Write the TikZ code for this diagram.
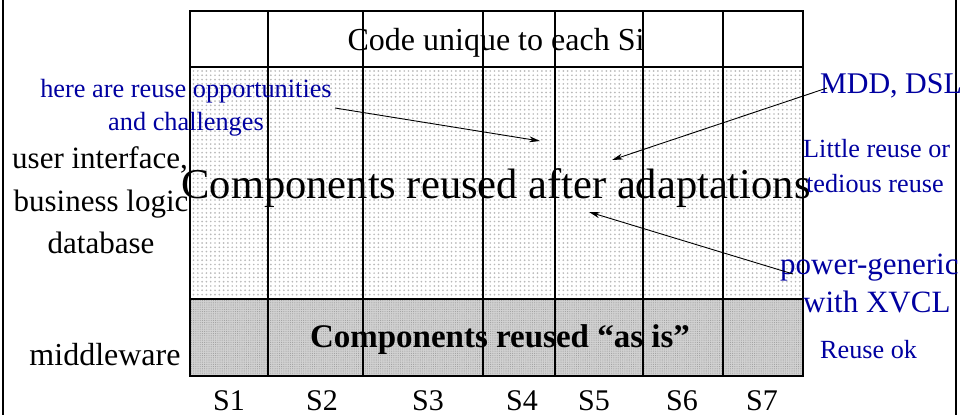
\documentclass[tikz,border=0pt]{standalone}
\usepackage{fontspec}
\setmainfont{Liberation Serif}
\usetikzlibrary{patterns.meta,arrows.meta}
\definecolor{blu}{RGB}{0,0,160}
\tikzset{
  grid/.style={line width=1.5pt, draw=black},
  lbl/.style={inner sep=0pt, anchor=base, font=\fontsize{32}{38}\selectfont},
  blab/.style={inner sep=0pt, anchor=base, text=blu},
  slab/.style={inner sep=0pt, anchor=base, font=\fontsize{30}{36}\selectfont},
  arr/.style={line width=0.9pt, -{Stealth[length=11pt,width=6pt]}},
  frameline/.style={line width=2.5pt}
}
\begin{document}
\begin{tikzpicture}[x=1pt,y=-1pt]
\useasboundingbox (0,0) rectangle (961,415);
\clip (0,0) rectangle (961,415);
% frame sides
\draw[frameline] (3,0) -- (3,415);
\draw[frameline] (956,0) -- (956,415);
% fills
\fill[white] (190,11) rectangle (803,67);
\fill[pattern={Dots[distance=4.3pt,radius=0.95pt]}, pattern color=gray!55] (190,67) rectangle (803,299);
\fill[black!18] (190,299) rectangle (803,376);
\fill[pattern={Dots[distance=2.2pt,radius=0.55pt]}, pattern color=gray!75] (190,299) rectangle (803,376);
% grid
\draw[grid] (190,11) rectangle (803,376);
\draw[grid] (190,67) -- (803,67);
\draw[grid] (190,299) -- (803,299);
\foreach \x in {268,363,483,555,643,723} \draw[grid] (\x,11) -- (\x,376);
% texts
\node[lbl] (code) at (496,50) {Code unique to each Si};
\node[inner sep=0pt, anchor=base, font=\fontsize{42.5}{48}\selectfont] (adapt) at (496,198) {Components reused after adaptations};
\node[inner sep=0pt, anchor=base, font=\bfseries\fontsize{33}{38}\selectfont] (asis) at (500,347) {Components reused “as is”};
\node[lbl, font=\fontsize{31}{38}\selectfont] (ui) at (100,168) {user interface,};
\node[lbl, font=\fontsize{31}{38}\selectfont] (bl) at (101,211) {business logic};
\node[lbl, font=\fontsize{31}{38}\selectfont] (db) at (101,253) {database};
\node[lbl] (mw) at (105,365) {middleware};
% blue
\node[blab, font=\fontsize{26.3}{33}\selectfont] (reuse) at (186,97) {here are reuse opportunities};
\node[blab, font=\fontsize{26.3}{33}\selectfont] (chall) at (186,130) {and challenges};
\node[blab, anchor=base west, font=\fontsize{30}{36}\selectfont] (mdd) at (820,93) {MDD, DSL};
\node[blab, anchor=base west, font=\fontsize{26.2}{35}\selectfont] (little) at (803,157) {Little reuse or};
\node[blab, anchor=base west, font=\fontsize{26.2}{35}\selectfont] (tedious) at (806,192) {tedious reuse};
\node[blab, anchor=base west, font=\fontsize{31}{36}\selectfont] (pg) at (780,274) {power-generic};
\node[blab, anchor=base west, font=\fontsize{31}{36}\selectfont] (xvcl) at (803,312) {with XVCL};
\node[blab, anchor=base west, font=\fontsize{26.2}{30}\selectfont] (ok) at (820,358) {Reuse ok};
% S labels
\node[slab] (s1) at (229,410) {S1};
\node[slab] (s2) at (322,410) {S2};
\node[slab] (s3) at (428,410) {S3};
\node[slab] (s4) at (522,410) {S4};
\node[slab] (s5) at (594,410) {S5};
\node[slab] (s6) at (682,410) {S6};
\node[slab] (s7) at (762,410) {S7};
% arrows
\coordinate (a1s) at (335,108);
\coordinate (a1e) at (540,141);
\coordinate (a2s) at (827,88);
\coordinate (a2e) at (612,160);
\coordinate (a3s) at (793,274);
\coordinate (a3e) at (589,212);
\draw[arr] (a1s) -- (a1e);
\draw[arr] (a2s) -- (a2e);
\draw[arr] (a3s) -- (a3e);
\end{tikzpicture}
\end{document}
